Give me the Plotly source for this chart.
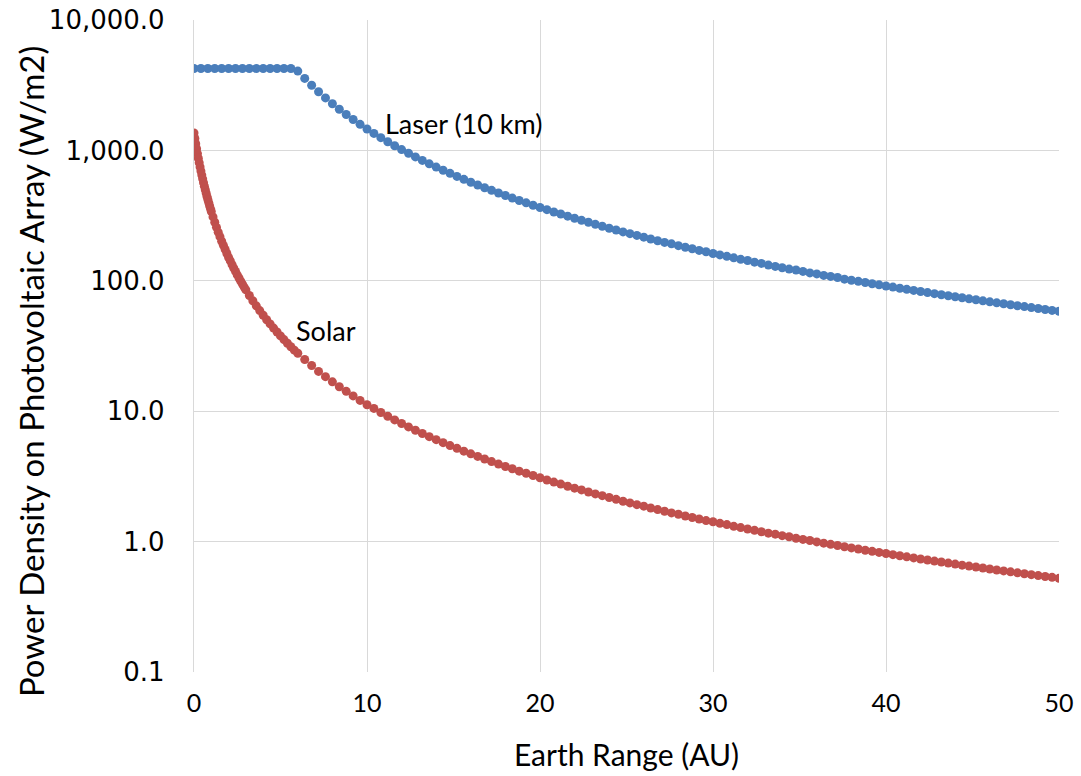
import plotly.graph_objects as go

earth_range_au = [
    0.0, 0.4, 0.8, 1.2, 1.6, 2.0, 2.4, 2.8, 3.2, 3.6, 4.0, 4.4, 4.8, 5.2, 5.6, 6.0,
    6.4, 6.8, 7.2, 7.6, 8.0, 8.4, 8.8, 9.2, 9.6, 10.0, 10.4, 10.8, 11.2, 11.6, 12.0,
    12.4, 12.8, 13.2, 13.6, 14.0, 14.4, 14.8, 15.2, 15.6, 16.0, 16.4, 16.8, 17.2, 17.6,
    18.0, 18.4, 18.8, 19.2, 19.6, 20.0, 20.4, 20.8, 21.2, 21.6, 22.0, 22.4, 22.8, 23.2,
    23.6, 24.0, 24.4, 24.8, 25.2, 25.6, 26.0, 26.4, 26.8, 27.2, 27.6, 28.0, 28.4, 28.8,
    29.2, 29.6, 30.0, 30.4, 30.8, 31.2, 31.6, 32.0, 32.4, 32.8, 33.2, 33.6, 34.0, 34.4,
    34.8, 35.2, 35.6, 36.0, 36.4, 36.8, 37.2, 37.6, 38.0, 38.4, 38.8, 39.2, 39.6, 40.0,
    40.4, 40.8, 41.2, 41.6, 42.0, 42.4, 42.8, 43.2, 43.6, 44.0, 44.4, 44.8, 45.2, 45.6,
    46.0, 46.4, 46.8, 47.2, 47.6, 48.0, 48.4, 48.8, 49.2, 49.6, 50.0,
]

laser_10km = [
    4250, 4250, 4250, 4250, 4250, 4250, 4250, 4250, 4250, 4250, 4250, 4250, 4250, 4250, 4250, 4056,
    3564, 3157, 2816, 2528, 2281, 2069, 1885, 1725, 1584, 1460, 1350, 1252, 1164, 1085, 1014,
    950, 891, 838, 789, 745, 704, 667, 632, 600, 570, 543, 517, 494, 471,
    451, 431, 413, 396, 380, 365, 351, 337, 325, 313, 302, 291, 281, 271,
    262, 253, 245, 237, 230, 223, 216, 209, 203, 197, 192, 186, 181, 176,
    171, 167, 162, 158, 154, 150, 146, 143, 139, 136, 132, 129, 126, 123,
    121, 118, 115, 113, 110, 108, 106, 103, 101, 99.0, 97.0, 95.0, 93.1, 91.3,
    89.5, 87.7, 86.0, 84.4, 82.8, 81.2, 79.7, 78.2, 76.8, 75.4, 74.1, 72.7, 71.5, 70.2,
    69.0, 67.8, 66.7, 65.5, 64.4, 63.4, 62.3, 61.3, 60.3, 59.3, 58.4,
]

# Solar curve is sampled more finely near Earth (the reference shows a continuous run of dots there)
solar_range_near = [
    0.0, 0.05, 0.10, 0.15, 0.20, 0.25, 0.30, 0.35, 0.40, 0.45, 0.50, 0.55, 0.60, 0.65,
    0.70, 0.75, 0.80, 0.85, 0.90, 0.95,
    1.0, 1.1, 1.2, 1.3, 1.4, 1.5, 1.6, 1.7, 1.8, 1.9, 2.0, 2.1, 2.2, 2.3, 2.4, 2.5,
    2.6, 2.7, 2.8, 2.9,
    3.0, 3.2, 3.4, 3.6, 3.8, 4.0, 4.2, 4.4, 4.6, 4.8, 5.0, 5.2, 5.4, 5.6, 5.8,
]
solar_near = [
    1361, 1234, 1125, 1029, 945, 871, 805, 747, 694, 647, 605, 566, 532, 500,
    471, 444, 420, 398, 377, 358,
    340, 309, 281, 257, 236, 218, 201, 187, 174, 162, 151, 142, 133, 125, 118, 111,
    105, 99.4, 94.3, 89.5,
    85.1, 77.2, 70.3, 64.3, 59.1, 54.4, 50.3, 46.7, 43.4, 40.5, 37.8, 35.4, 33.2, 31.2, 29.4,
]
solar_far = [
    27.8,
    24.9, 22.4, 20.2, 18.4, 16.8, 15.4, 14.2, 13.1, 12.1, 11.2, 10.5, 9.77, 9.14, 8.57, 8.05,
    7.58, 7.15, 6.75, 6.38, 6.05, 5.74, 5.45, 5.19, 4.94, 4.71, 4.50, 4.30, 4.11, 3.93,
    3.77, 3.62, 3.47, 3.34, 3.21, 3.09, 2.97, 2.86, 2.76, 2.66, 2.57, 2.49, 2.40, 2.32,
    2.25, 2.18, 2.11, 2.04, 1.98, 1.92, 1.87, 1.81, 1.76, 1.71, 1.66, 1.62, 1.57, 1.53,
    1.49, 1.45, 1.42, 1.38, 1.35, 1.31, 1.28, 1.25, 1.22, 1.19, 1.16, 1.14, 1.11, 1.09,
    1.06, 1.04, 1.02, 0.994, 0.973, 0.953, 0.933, 0.913, 0.895, 0.877, 0.859, 0.842, 0.826, 0.810,
    0.794, 0.779, 0.764, 0.750, 0.736, 0.723, 0.709, 0.697, 0.684, 0.672, 0.660, 0.649, 0.638, 0.627,
    0.616, 0.606, 0.596, 0.586, 0.576, 0.567, 0.558, 0.549, 0.540, 0.532, 0.523,
]
solar_range_au = solar_range_near + earth_range_au[15:]
solar = solar_near + solar_far

y_tickvals = [0.1, 1, 10, 100, 1000, 10000]
y_ticktext = ["0.1", "1.0", "10.0", "100.0", "1,000.0", "10,000.0"]
x_tickvals = [0, 10, 20, 30, 40, 50]

BLUE = "#4a7ebb"
RED = "#c0504d"
GRID = "#d9d9d9"
TXT = "#000000"

fig = go.Figure()
fig.add_trace(go.Scatter(
    x=earth_range_au, y=laser_10km, mode="markers", name="Laser (10 km)",
    marker=dict(color=BLUE, size=9, line=dict(width=0)),
))
fig.add_trace(go.Scatter(
    x=solar_range_au, y=solar, mode="markers", name="Solar",
    marker=dict(color=RED, size=9, line=dict(width=0)),
))

fig.add_annotation(x=10.9, y=3.21, xref="x", yref="y", text="Laser (10 km)",
                   showarrow=False, xanchor="left", yanchor="middle",
                   font=dict(family="Lato", size=27, color=TXT))
fig.add_annotation(x=5.8, y=1.617, xref="x", yref="y", text="Solar",
                   showarrow=False, xanchor="left", yanchor="middle",
                   font=dict(family="Lato", size=27, color=TXT))
# y-axis title placed as a rotated annotation for exact positioning
fig.add_annotation(x=0, y=0.46, xref="paper", yref="paper", xshift=-163,
                   text="Power Density on Photovoltaic Array (W/m2)", textangle=-90,
                   showarrow=False, xanchor="center", yanchor="middle",
                   font=dict(family="Lato", size=33, color=TXT))

fig.update_layout(
    width=1081, height=776,
    margin=dict(l=194, r=22, t=20, b=104),
    paper_bgcolor="white", plot_bgcolor="white",
    showlegend=False,
    xaxis=dict(
        range=[0, 50], tickvals=x_tickvals, showgrid=True, gridcolor=GRID, gridwidth=1.3,
        zeroline=False, showline=False, ticks="", automargin=False,
        ticklabelstandoff=14, ticklabeloverflow="allow",
        tickfont=dict(family="Lato", size=25, color=TXT),
        title=dict(text="Earth Range (AU)", font=dict(family="Lato", size=30, color=TXT), standoff=28),
    ),
    yaxis=dict(
        type="log", range=[-1, 4], tickvals=y_tickvals, ticktext=y_ticktext,
        showgrid=True, gridcolor=GRID, gridwidth=1.3, automargin=False,
        zeroline=False, showline=True, linecolor=GRID, linewidth=1.3, ticks="",
        ticklabelstandoff=23, ticklabeloverflow="allow",
        tickfont=dict(family="DejaVu Sans", size=26, color=TXT),
    ),
)

# remove the browser's default 8 px body margin so the figure fills the window exactly
fig.write_html("out.html", config={"displayModeBar": False},
               post_script="document.body.style.margin='0';")
